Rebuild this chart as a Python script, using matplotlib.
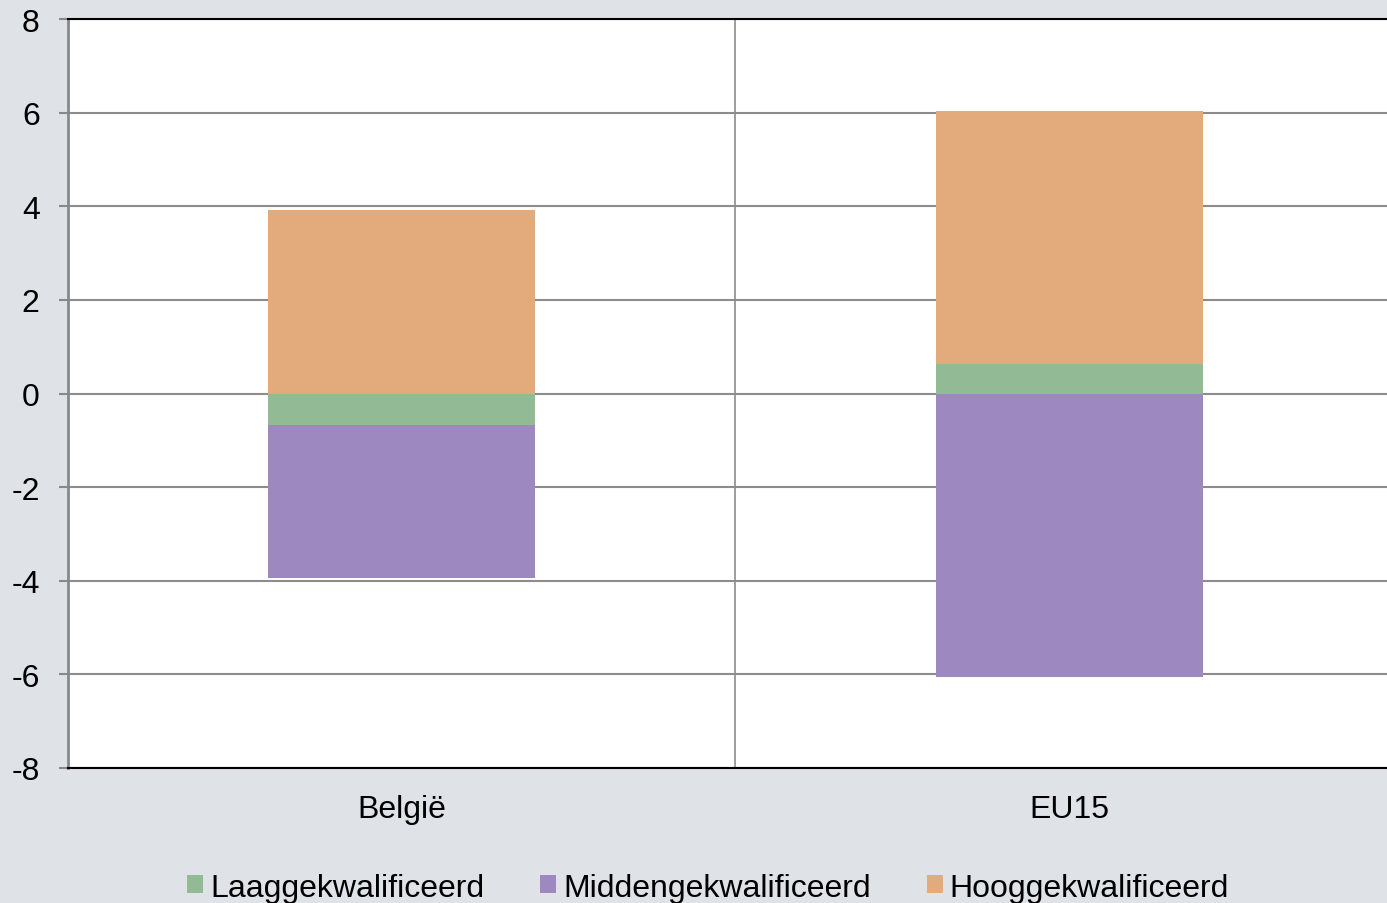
import matplotlib
matplotlib.use("Agg")
import matplotlib.pyplot as plt
from matplotlib.patches import Patch
import numpy as np

plt.rcParams['font.family'] = ['Liberation Sans', 'DejaVu Sans']

categories = ["België", "EU15"]
series_names = ["Laaggekwalificeerd", "Middengekwalificeerd", "Hooggekwalificeerd"]
laag = [-0.67, 0.64]
midden = [-3.28, -6.05]
hoog = [3.92, 5.39]
series_values = [laag, midden, hoog]
colors = ["#92BA94", "#9D89BF", "#E3AB7B"]
yticks = [-8, -6, -4, -2, 0, 2, 4, 6, 8]

bg = "#DFE2E7"
fig = plt.figure(figsize=(13.87, 9.04), dpi=100, facecolor=bg)
ax = fig.add_axes([67.5/1387, 135/904, 1336/1387, 749/904])
ax.set_facecolor("white")

x = np.arange(len(categories))
pos_base = np.zeros(len(categories))
neg_base = np.zeros(len(categories))
for vals, col, name in zip(series_values, colors, series_names):
    vals = np.array(vals)
    bottoms = np.where(vals >= 0, pos_base, neg_base)
    ax.bar(x, vals, width=0.4, bottom=bottoms, color=col, label=name, zorder=3)
    pos_base = pos_base + np.where(vals >= 0, vals, 0)
    neg_base = neg_base + np.where(vals < 0, vals, 0)

ax.set_xlim(-0.5, 1.5)
ax.set_ylim(-8, 8)
ax.set_yticks(yticks)
ax.set_yticklabels([str(t) for t in yticks], fontsize=23)
ax.set_xticks(x)
ax.set_xticklabels(categories, fontsize=23)
ax.tick_params(axis='x', length=0, pad=19)
ax.tick_params(axis='y', length=6.5, width=1.5, color="#888888", pad=13.5)

ax.yaxis.grid(True, color="#8C8C8C", linewidth=1.5, zorder=1)
ax.set_axisbelow(True)
ax.axvline(0.5, color="#8C8C8C", linewidth=1.2, zorder=1)

ax.spines['left'].set_color("#888888")
ax.spines['left'].set_linewidth(2)
ax.spines['top'].set_color("black")
ax.spines['top'].set_linewidth(1.5)
ax.spines['bottom'].set_color("black")
ax.spines['bottom'].set_linewidth(1.5)
ax.spines['right'].set_visible(False)

handles = [Patch(facecolor=c, edgecolor='none') for c in colors]
fig.legend(handles, series_names, loc='center', bbox_to_anchor=(0.5105, 0.017),
           ncol=3, frameon=False, fontsize=23, handlelength=0.5, handleheight=0.5,
           handletextpad=0.22, columnspacing=1.75, borderpad=0)

fig.savefig("out.png", dpi=100, facecolor=bg)
